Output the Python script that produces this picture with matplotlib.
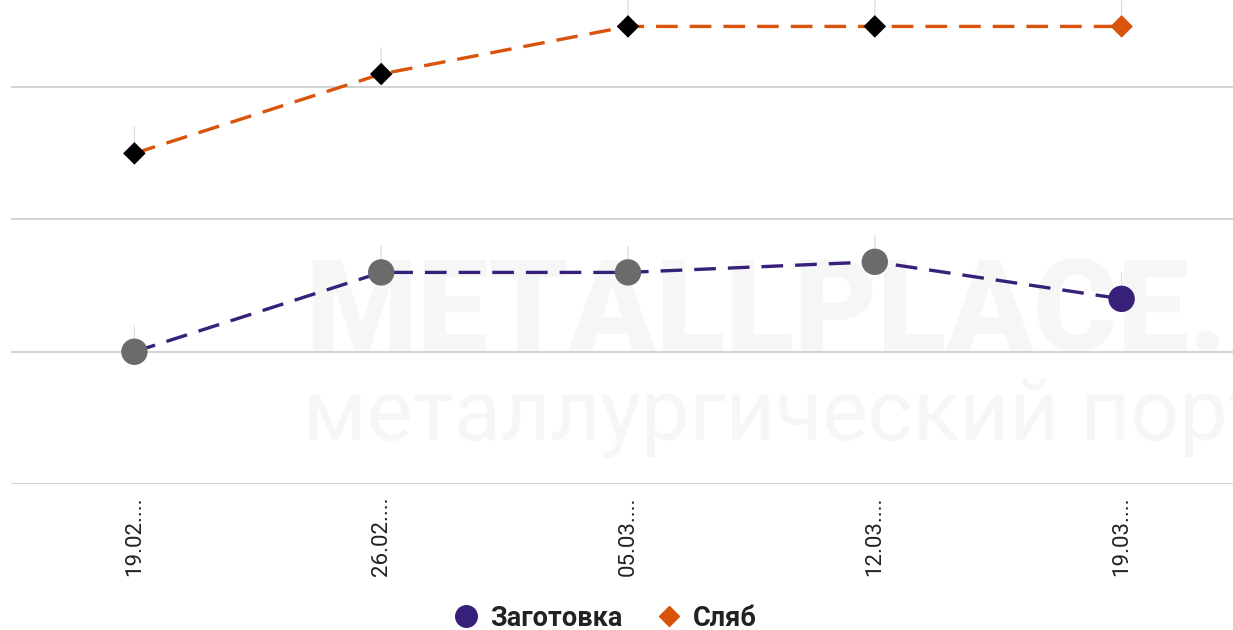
import matplotlib
matplotlib.use("Agg")
from matplotlib import pyplot as plt
from matplotlib.lines import Line2D

dates = ["19.02....", "26.02....", "05.03....", "12.03....", "19.03...."]
billet = [540, 546, 546, 546.8, 544]       # Заготовка
slab = [555, 561, 564.6, 564.6, 564.6]     # Сляб
billet_pt_colors = ["#6b6b6b", "#6b6b6b", "#6b6b6b", "#6b6b6b", "#36207a"]
slab_pt_colors = ["#000000", "#000000", "#000000", "#000000", "#d9540a"]

purple = "#36207a"
orange = "#d9540a"

plt.rcParams['font.family'] = ['Roboto', 'DejaVu Sans']

fig = plt.figure(figsize=(12.33, 6.30), dpi=100)
ax = fig.add_axes([11/1233, (630-484)/630, 1234/1233, (484+45)/630])

# faint watermark, behind everything in the axes
ax.text(305/1233, 1-316/630, "METALLPLACE.RU", fontsize=92, fontweight="black",
        color="#f6f6f6", va="center", ha="left", zorder=0,
        transform=fig.transFigure, clip_on=False)
ax.text(303/1233, 1-418/630, "металлургический портал", fontsize=62,
        color="#f6f6f6", va="center", ha="left", zorder=0,
        transform=fig.transFigure, clip_on=False)

x = list(range(len(dates)))

ax.plot(x, billet, color=purple, lw=2.4, ls=(0, (6.5, 3.6)), zorder=3)
ax.plot(x, slab, color=orange, lw=2.4, ls=(0, (6.5, 3.6)), zorder=3)
ax.scatter(x, billet, s=19**2, c=billet_pt_colors, marker="o", zorder=4, linewidths=0)
ax.scatter(x, slab, s=11.5**2, c=slab_pt_colors, marker="D", zorder=4, linewidths=0)

# little label stubs above every point
for xi, yi in zip(x + x, billet + slab):
    ax.annotate("", xy=(xi, yi), xytext=(0, 19), textcoords="offset points",
                arrowprops=dict(arrowstyle="-", color="#dedede", lw=0.9,
                                shrinkA=0, shrinkB=0), zorder=2)

ax.set_xlim(-0.5, 4.5)
ax.set_ylim(530, 570)
ax.set_yticks([530, 540, 550, 560, 570])
ax.set_yticklabels([])
ax.grid(axis="y", color="#cccccc", lw=1.2, zorder=1)
ax.set_axisbelow(True)
ax.tick_params(axis="y", length=0)
ax.set_xticks(x)
ax.set_xticklabels(dates, rotation=90, fontsize=16, color="#222222")
ax.tick_params(axis="x", length=0, pad=9)
for s in ax.spines.values():
    s.set_visible(False)

handles = [
    Line2D([], [], marker="o", ls="none", color=purple, markersize=15.5, label="Заготовка"),
    Line2D([], [], marker="D", ls="none", color=orange, markersize=10.5, label="Сляб"),
]
leg = fig.legend(handles=handles, loc="center", bbox_to_anchor=(602/1233, 1-618/630),
                 ncol=2, frameon=False, handletextpad=0.2, columnspacing=1.0,
                 handlelength=1.4, prop={"family": "Roboto", "weight": "bold", "size": 19.5})
for t in leg.get_texts():
    t.set_color("#222222")

fig.savefig("out.png", dpi=100)
